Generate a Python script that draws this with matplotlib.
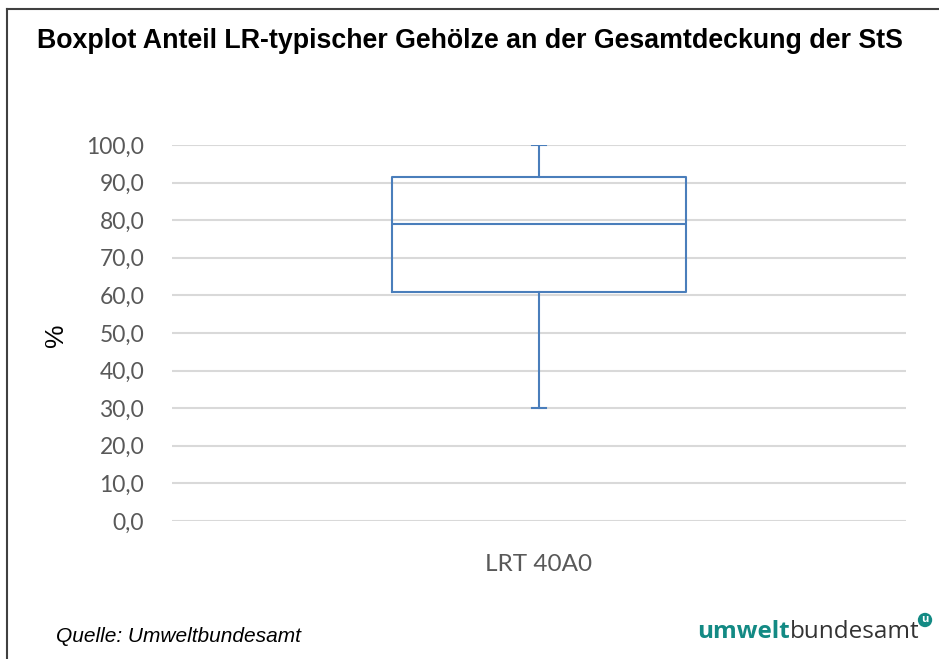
import matplotlib.pyplot as plt
from matplotlib.lines import Line2D

# Boxplot summary values (%)
category = "LRT 40A0"
whisker_low = 30.0
q1 = 61.0
median = 79.0
q3 = 91.5
whisker_high = 100.0
y_ticks = [0, 10, 20, 30, 40, 50, 60, 70, 80, 90, 100]

W, H = 939, 659
fig = plt.figure(figsize=(W / 100, H / 100), dpi=100)
ax = fig.add_axes([172 / W, 1 - 521 / H, (906 - 172) / W, (521 - 145) / H])

blue = "#4a7ebb"
stats = [{
    "label": category,
    "whislo": whisker_low,
    "q1": q1,
    "med": median,
    "q3": q3,
    "whishi": whisker_high,
    "fliers": [],
}]
ax.bxp(stats, positions=[0], widths=0.4, showfliers=False,
       boxprops=dict(color=blue, linewidth=1.5),
       medianprops=dict(color=blue, linewidth=1.5),
       whiskerprops=dict(color=blue, linewidth=1.5),
       capprops=dict(color=blue, linewidth=1.5),
       capwidths=0.02, zorder=3)

ax.set_xlim(-0.5, 0.5)
ax.set_ylim(0, 100)
ax.set_yticks(y_ticks)
ax.set_yticklabels([f"{v:.1f}".replace(".", ",") for v in y_ticks],
                   fontsize=16.5, color="#595959", family="Lato")
ax.set_xticks([0])
ax.set_xticklabels([category], fontsize=17.5, color="#595959", family="Lato")
ax.tick_params(axis="both", length=0)
ax.tick_params(axis="y", pad=20)
ax.tick_params(axis="x", pad=24)
ax.grid(axis="y", color="#d9d9d9", linewidth=1.5, zorder=0)
for s in ax.spines.values():
    s.set_visible(False)

fig.text(56 / W, 1 - 335 / H, "%", rotation=90, ha="center", va="center",
         fontsize=19, family="Liberation Sans")

fig.text(0.5, 1 - 41 / H, "Boxplot Anteil LR-typischer Gehölze an der Gesamtdeckung der StS",
         ha="center", va="center", fontsize=19.3, fontweight="bold", family="Liberation Sans")
fig.text(56 / W, 1 - 637 / H, "Quelle: Umweltbundesamt", ha="left", va="center",
         fontsize=15, style="italic", family="Liberation Sans")

# logo text
logo_y = 1 - 632 / H
t1 = fig.text(697 / W, logo_y, "umwelt", ha="left", va="center", fontsize=17.5,
              fontweight="bold", color="#138a84", family="Open Sans")
fig.canvas.draw()
bb = t1.get_window_extent()
t2 = fig.text(bb.x1 / W, logo_y, "bundesamt", ha="left", va="center", fontsize=17.5,
              color="#333333", family="Open Sans")
fig.canvas.draw()
bb2 = t2.get_window_extent()
fig.text(bb2.x1 / W + 0.006, 1 - 620 / H, "u", ha="center", va="center", fontsize=8,
         fontweight="bold", color="white", family="Open Sans",
         bbox=dict(boxstyle="circle,pad=0.15", fc="#138a84", ec="none"))

# outer frame (left and top edges)
fig.add_artist(Line2D([7 / W, 7 / W], [0, 1 - 9 / H], color="#404040", linewidth=1.5))
fig.add_artist(Line2D([7 / W, 1], [1 - 9 / H, 1 - 9 / H], color="#404040", linewidth=1.5))

fig.savefig("out.png", dpi=100)
